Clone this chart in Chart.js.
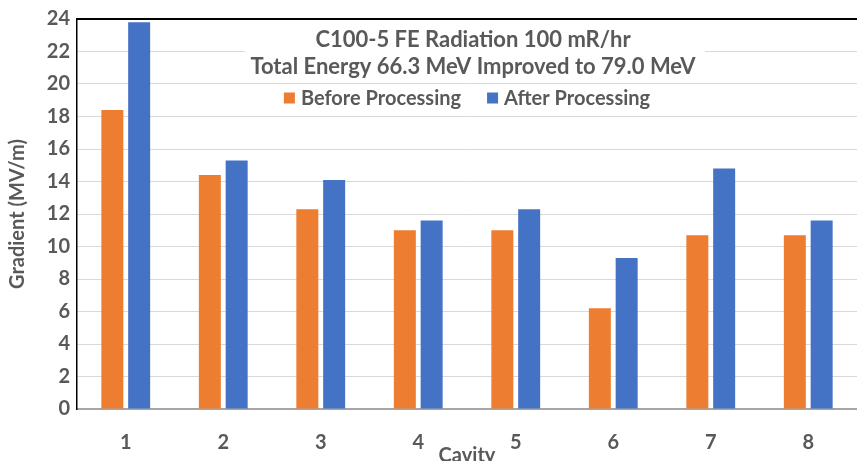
<!DOCTYPE html>
<html>
<head>
<meta charset="utf-8">
<script src="https://cdn.jsdelivr.net/npm/chart.js@4.4.1/dist/chart.umd.min.js"></script>
<style>
  html, body { margin: 0; padding: 0; background: #fff; overflow: hidden; }
  #wrap { width: 857px; height: 468px; }
</style>
</head>
<body>
<div id="wrap"><canvas id="gradChart"></canvas></div>
<script>
const cavities = ["1", "2", "3", "4", "5", "6", "7", "8"];
const beforeProcessing = [18.4, 14.4, 12.3, 11.0, 11.0, 6.2, 10.7, 10.7];
const afterProcessing = [23.8, 15.3, 14.1, 11.6, 12.3, 9.3, 14.8, 11.6];
const titleLines = ["C100-5 FE Radiation 100 mR/hr", "Total Energy 66.3 MeV Improved to 79.0 MeV"];

const textColor = "#595959";
const fontFamily = "Lato, 'Noto Sans', sans-serif";

// title + legend drawn inside the plot, on a white patch over the gridlines
const insideTitle = {
  id: "insideTitle",
  beforeDatasetsDraw(chart) {
    const { ctx, chartArea } = chart;
    const cx = (chartArea.left + chartArea.right) / 2;
    ctx.save();
    ctx.fillStyle = "#fff";
    ctx.fillRect(cx - 222, chartArea.top + 3, 460, 60);

    ctx.fillStyle = textColor;
    ctx.textAlign = "center";
    ctx.textBaseline = "middle";
    ctx.font = "bold 22px " + fontFamily;
    ctx.fillText(titleLines[0], cx + 6, chartArea.top + 21);
    ctx.fillText(titleLines[1], cx + 6, chartArea.top + 48);

    // legend
    ctx.font = "bold 20px " + fontFamily;
    const box = 11, gap = 6, itemGap = 26;
    const items = chart.data.datasets.map(ds => ({
      label: ds.label, color: ds.backgroundColor,
      w: box + gap + ctx.measureText(ds.label).width
    }));
    const total = items.reduce((s, it) => s + it.w, 0) + itemGap * (items.length - 1);
    let x = cx - total / 2;
    const y = chartArea.top + 79;
    ctx.textAlign = "left";
    items.forEach(it => {
      ctx.fillStyle = it.color;
      ctx.fillRect(x, y - box / 2, box, box);
      ctx.fillStyle = textColor;
      ctx.fillText(it.label, x + box + gap, y + 1);
      x += it.w + itemGap;
    });
    ctx.restore();
  },
  afterDraw(chart) {
    const { ctx, chartArea } = chart;
    ctx.save();
    ctx.strokeStyle = "#000";
    ctx.lineWidth = 2;
    ctx.beginPath();
    ctx.moveTo(chartArea.left - 1, chartArea.top);
    ctx.lineTo(chartArea.right, chartArea.top);
    ctx.stroke();
    ctx.restore();
  }
};

const ctx = document.getElementById("gradChart");
new Chart(ctx, {
  type: "bar",
  data: {
    labels: cavities,
    datasets: [
      {
        label: "Before Processing",
        data: beforeProcessing,
        backgroundColor: "#ED7D31",
        categoryPercentage: 0.55,
        barPercentage: 0.82,
      },
      {
        label: "After Processing",
        data: afterProcessing,
        backgroundColor: "#4472C4",
        categoryPercentage: 0.55,
        barPercentage: 0.82,
      },
    ],
  },
  options: {
    responsive: true,
    maintainAspectRatio: false,
    animation: false,
    layout: { padding: { top: 16, left: 6, right: 0, bottom: 0 } },
    scales: {
      x: {
        grid: { display: false },
        border: { color: "#a6a6a6", width: 2 },
        ticks: {
          color: textColor,
          font: { family: fontFamily, size: 20, weight: "bold" },
          padding: 14,
        },
        title: {
          display: true,
          text: "Cavity",
          color: textColor,
          font: { family: fontFamily, size: 20, weight: "bold" },
          padding: { top: 0, bottom: 0 },
        },
        afterFit(scale) { scale.height = 59; },
      },
      y: {
        min: 0,
        max: 24,
        ticks: {
          stepSize: 2,
          color: textColor,
          font: { family: fontFamily, size: 20, weight: "bold" },
          padding: 7,
        },
        grid: { color: "#d9d9d9", drawTicks: false },
        border: { color: "#000", width: 1.5 },
        title: {
          display: true,
          text: "Gradient (MV/m)",
          color: textColor,
          font: { family: fontFamily, size: 20, weight: "bold" },
          padding: { top: 0, bottom: 2 },
        },
        afterFit(scale) { scale.width = 71; },
      },
    },
    plugins: {
      legend: { display: false },
      tooltip: { enabled: false },
    },
  },
  plugins: [insideTitle],
});
</script>
</body>
</html>
